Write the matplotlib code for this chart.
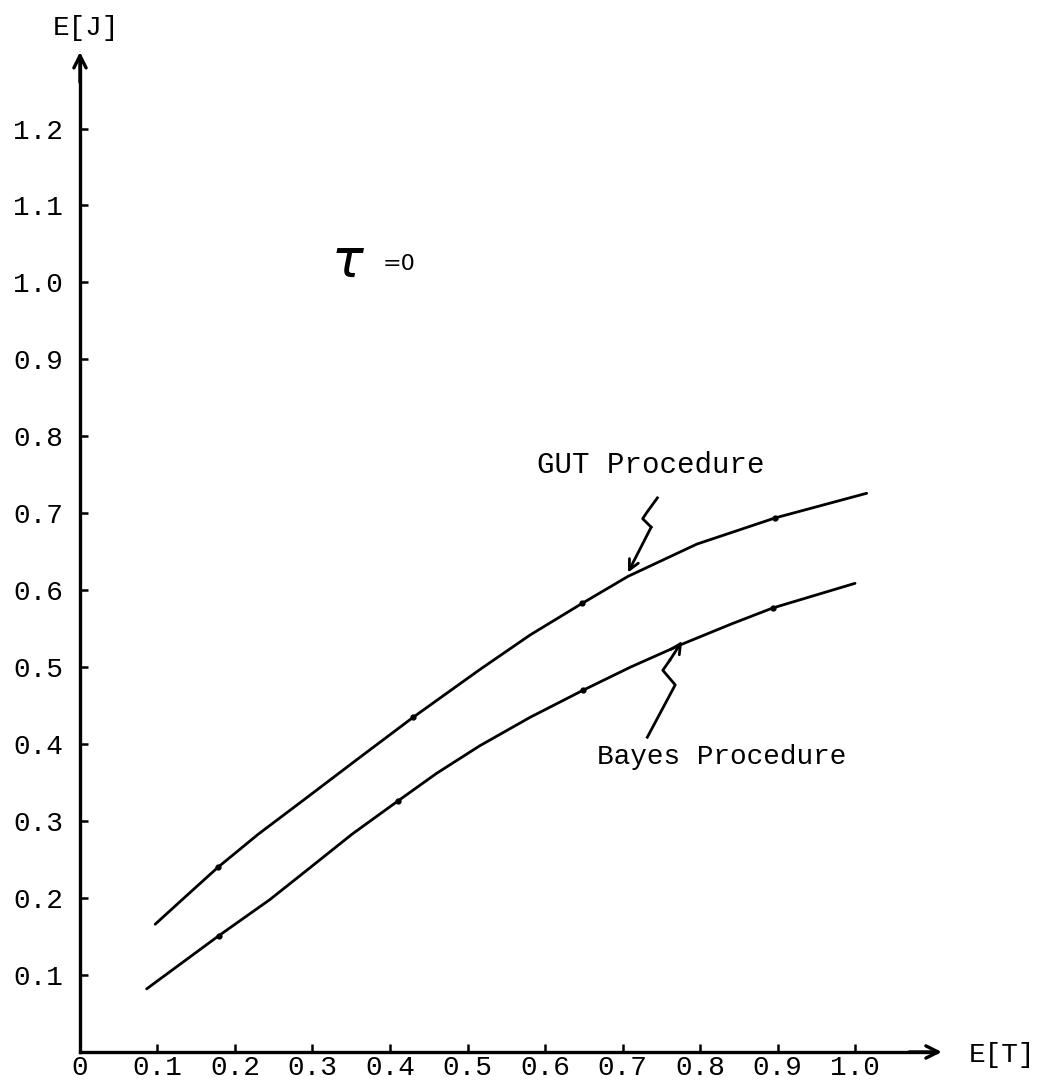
import matplotlib
matplotlib.use("Agg")
import matplotlib.pyplot as plt

# curves (E[T], E[J])
gut_x = [0.097, 0.133, 0.178, 0.230, 0.288, 0.360, 0.430, 0.516, 0.581, 0.648, 0.707, 0.796, 0.897, 1.015]
gut_y = [0.166, 0.199, 0.240, 0.283, 0.327, 0.382, 0.435, 0.497, 0.542, 0.583, 0.618, 0.660, 0.694, 0.726]
bayes_x = [0.086, 0.179, 0.245, 0.300, 0.351, 0.410, 0.460, 0.516, 0.581, 0.649, 0.710, 0.777, 0.840, 0.894, 1.000]
bayes_y = [0.082, 0.151, 0.198, 0.242, 0.283, 0.326, 0.362, 0.398, 0.435, 0.470, 0.500, 0.530, 0.556, 0.577, 0.609]

# little hand marks on the curves
gut_dot_x = [0.178, 0.430, 0.648, 0.897]
gut_dot_y = [0.240, 0.435, 0.583, 0.694]
bayes_dot_x = [0.179, 0.410, 0.649, 0.894]
bayes_dot_y = [0.151, 0.326, 0.470, 0.577]

xticks = [0, 0.1, 0.2, 0.3, 0.4, 0.5, 0.6, 0.7, 0.8, 0.9, 1.0]
xtick_labels = ["0", "0.1", "0.2", "0.3", "0.4", "0.5", "0.6", "0.7", "0.8", "0.9", "1.0"]
yticks = [0.1, 0.2, 0.3, 0.4, 0.5, 0.6, 0.7, 0.8, 0.9, 1.0, 1.1, 1.2]
ytick_labels = ["0.1", "0.2", "0.3", "0.4", "0.5", "0.6", "0.7", "0.8", "0.9", "1.0", "1.1", "1.2"]

# squiggly pointer arrows (label -> curve)
gut_arrow_x = [0.745, 0.732, 0.726, 0.737, 0.707]
gut_arrow_y = [0.720, 0.702, 0.693, 0.682, 0.623]
bayes_arrow_x = [0.732, 0.768, 0.752, 0.761, 0.777]
bayes_arrow_y = [0.409, 0.477, 0.496, 0.509, 0.534]

mono = "Liberation Mono"

fig = plt.figure(figsize=(10.48, 10.87), dpi=100)
ax = fig.add_axes([0, 0, 1, 1])
ax.set_xlim(-0.1032, 1.249)
ax.set_ylim(-0.0455, 1.367)

for s in ["top", "right"]:
    ax.spines[s].set_visible(False)
ax.spines["left"].set_position(("data", 0))
ax.spines["bottom"].set_position(("data", 0))
ax.spines["left"].set_bounds(0, 1.29)
ax.spines["bottom"].set_bounds(0, 1.105)
ax.spines["left"].set_linewidth(2.4)
ax.spines["bottom"].set_linewidth(2.4)

# arrow heads on the axes
ax.annotate("", xy=(0, 1.2995), xytext=(0, 1.26),
            arrowprops=dict(arrowstyle="->", lw=2.4, mutation_scale=22, shrinkA=0, shrinkB=0))
ax.annotate("", xy=(1.112, 0), xytext=(1.07, 0),
            arrowprops=dict(arrowstyle="->", lw=2.4, mutation_scale=22, shrinkA=0, shrinkB=0))

ax.set_xticks(xticks)
ax.set_xticklabels(xtick_labels, fontfamily=mono, fontsize=20)
ax.set_yticks(yticks)
ax.set_yticklabels(ytick_labels, fontfamily=mono, fontsize=20)
ax.tick_params(axis="x", direction="in", length=6, width=1.8, pad=2)
ax.tick_params(axis="y", direction="in", length=6, width=1.8, pad=12)

# curves
ax.plot(gut_x, gut_y, color="black", lw=2.0, solid_capstyle="round", solid_joinstyle="round")
ax.plot(bayes_x, bayes_y, color="black", lw=2.0, solid_capstyle="round", solid_joinstyle="round")
ax.plot(gut_dot_x, gut_dot_y, "o", color="black", ms=3.5)
ax.plot(bayes_dot_x, bayes_dot_y, "o", color="black", ms=3.5)

# pointer squiggles
ax.plot(gut_arrow_x[:-1], gut_arrow_y[:-1], color="black", lw=2.0, solid_joinstyle="round")
ax.annotate("", xy=(gut_arrow_x[-1], gut_arrow_y[-1]), xytext=(gut_arrow_x[-2], gut_arrow_y[-2]),
            arrowprops=dict(arrowstyle="->", lw=2.0, mutation_scale=18, shrinkA=0, shrinkB=0))
ax.plot(bayes_arrow_x[:-1], bayes_arrow_y[:-1], color="black", lw=2.0, solid_joinstyle="round")
ax.annotate("", xy=(bayes_arrow_x[-1], bayes_arrow_y[-1]), xytext=(bayes_arrow_x[-2], bayes_arrow_y[-2]),
            arrowprops=dict(arrowstyle="->", lw=2.0, mutation_scale=18, shrinkA=0, shrinkB=0))

# labels
ax.text(0.590, 0.763, "GUT Procedure", fontfamily=mono, fontsize=21, va="center", ha="left")
ax.text(0.667, 0.383, "Bayes Procedure", fontfamily=mono, fontsize=20, va="center", ha="left")
ax.text(0.346, 1.027, r"$\tau$", fontsize=38, va="center", ha="center")
ax.text(0.390, 1.024, "=0", fontsize=16, va="center", ha="left")
ax.text(0.008, 1.331, "E[J]", fontfamily=mono, fontsize=20, va="center", ha="center")
ax.text(1.147, -0.004, "E[T]", fontfamily=mono, fontsize=20, va="center", ha="left")

fig.savefig("out.png", dpi=100)
